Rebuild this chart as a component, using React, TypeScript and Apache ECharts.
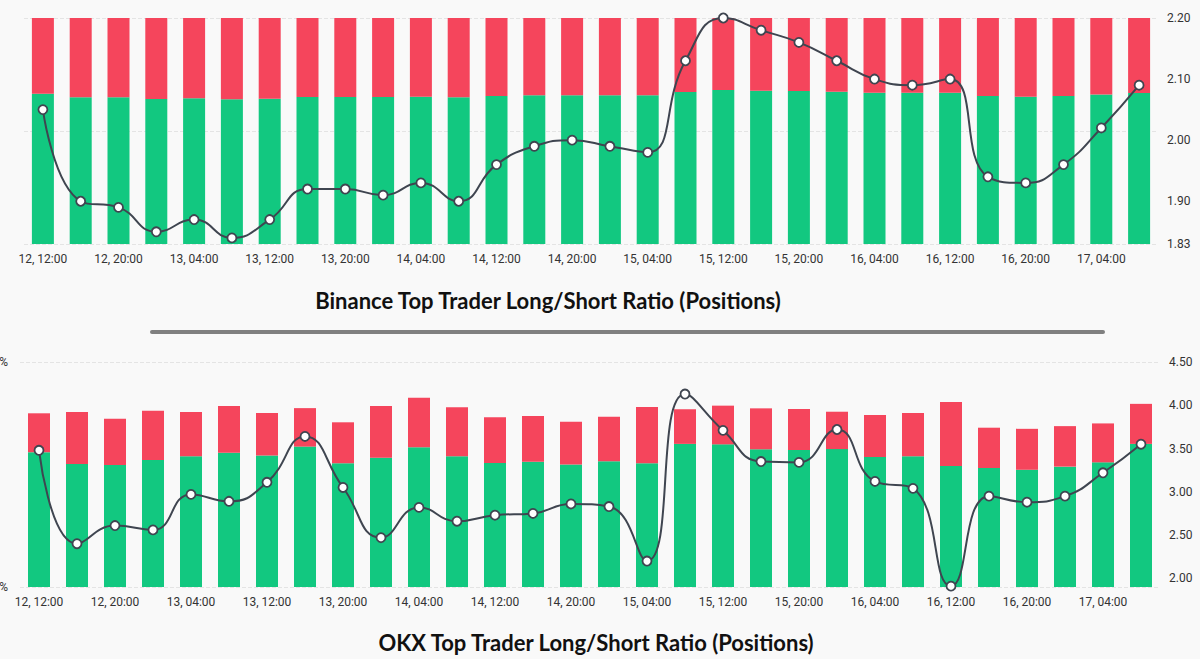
import React, { useEffect, useRef } from "react";
import * as echarts from "echarts";

const categories = [
  "12, 12:00", "12, 16:00", "12, 20:00", "13, 00:00", "13, 04:00", "13, 08:00",
  "13, 12:00", "13, 16:00", "13, 20:00", "14, 00:00", "14, 04:00", "14, 08:00",
  "14, 12:00", "14, 16:00", "14, 20:00", "15, 00:00", "15, 04:00", "15, 08:00",
  "15, 12:00", "15, 16:00", "15, 20:00", "16, 00:00", "16, 04:00", "16, 08:00",
  "16, 12:00", "16, 16:00", "16, 20:00", "17, 00:00", "17, 04:00", "17, 08:00",
];

// Binance: long % (short % = 100 - long)
const binanceLong = [
  66.5, 64.9, 64.9, 64.2, 64.5, 64.0, 64.3, 65.0, 65.0, 65.0,
  65.2, 64.9, 65.5, 65.8, 65.8, 65.8, 65.8, 67.3, 68.1, 67.8,
  67.7, 67.4, 66.9, 66.9, 66.9, 65.5, 65.2, 65.5, 66.1, 66.8,
];
const binanceShort = binanceLong.map((v) => +(100 - v).toFixed(1));
const binanceRatio = [
  2.05, 1.90, 1.89, 1.85, 1.87, 1.84, 1.87, 1.92, 1.92, 1.91,
  1.93, 1.90, 1.96, 1.99, 2.00, 1.99, 1.98, 2.13, 2.20, 2.18,
  2.16, 2.13, 2.10, 2.09, 2.10, 1.94, 1.93, 1.96, 2.02, 2.09,
];

// OKX
const okxLong = [
  59.9, 54.7, 54.2, 56.4, 58.1, 59.7, 58.5, 62.4, 55.0, 57.5,
  62.1, 58.1, 55.1, 55.7, 54.4, 55.9, 55.0, 63.6, 63.4, 61.2,
  60.9, 61.3, 57.8, 58.1, 53.8, 52.9, 52.1, 53.5, 55.4, 63.6,
];
const okxShort = [
  17.3, 23.1, 20.6, 21.9, 19.7, 20.8, 18.8, 17.1, 18.2, 23.0,
  22.0, 21.8, 20.3, 20.3, 19.0, 19.8, 25.0, 15.4, 17.2, 18.2,
  18.2, 16.6, 18.7, 19.2, 28.4, 17.9, 18.2, 18.0, 17.3, 17.8,
];
const okxRatio = [
  3.48, 2.40, 2.61, 2.56, 2.97, 2.89, 3.11, 3.64, 3.05, 2.47,
  2.82, 2.66, 2.73, 2.75, 2.86, 2.83, 2.20, 4.13, 3.71, 3.35,
  3.34, 3.72, 3.12, 3.04, 1.91, 2.95, 2.88, 2.95, 3.22, 3.55,
];

const titles = [
  "Binance Top Trader Long/Short Ratio (Positions)",
  "OKX Top Trader Long/Short Ratio (Positions)",
];

const GREEN = "#12C880";
const RED = "#F5455C";
const LINE = "#3F4550";
const LABEL_FONT = "Roboto, 'DejaVu Sans', sans-serif";
const TITLE_FONT = "Lato, 'Noto Sans', sans-serif";

export default function App() {
  const ref = useRef<HTMLDivElement>(null);
  useEffect(() => {
    if (!ref.current) return;
    const chart = echarts.init(ref.current, undefined, { renderer: "svg" });
    const xAxisBase = (gridIndex: number) => ({
      type: "category" as const,
      gridIndex,
      data: categories,
      axisLine: { show: false },
      axisTick: { show: false },
      axisLabel: {
        interval: 1,
        color: "#333",
        fontSize: 12,
        fontFamily: LABEL_FONT,
        margin: 9,
      },
    });
    const lineSeries = (data: number[], xi: number, yi: number) => ({
      type: "line" as const,
      xAxisIndex: xi,
      yAxisIndex: yi,
      data,
      smooth: 0.5,
      symbol: "circle",
      symbolSize: 9,
      lineStyle: { color: LINE, width: 2 },
      itemStyle: { color: "#fff", borderColor: LINE, borderWidth: 1.8 },
      z: 5,
    });
    const titleStyle = { fontFamily: TITLE_FONT, fontWeight: "bold", fontSize: 22, color: "#111" };
    chart.setOption({
      animation: false,
      backgroundColor: "#F9F9F9",
      title: [
        { text: titles[0], left: 543, top: 284, textAlign: "center", textStyle: titleStyle },
        { text: titles[1], left: 591, top: 626, textAlign: "center", textStyle: titleStyle },
      ],
      graphic: [
        {
          type: "line",
          shape: { x1: 152, y1: 332, x2: 1103, y2: 332 },
          style: { stroke: "#808080", lineWidth: 4, lineCap: "round" },
        },
      ],
      grid: [
        { left: 24, right: 42, top: 18, height: 226, outerBoundsMode: "none", containLabel: false },
        { left: 20, right: 40, top: 362, height: 225, outerBoundsMode: "none", containLabel: false },
      ],
      xAxis: [xAxisBase(0), xAxisBase(1)],
      yAxis: [
        {
          type: "value",
          gridIndex: 0,
          min: 0,
          max: 100,
          interval: 50,
          axisLabel: { show: false },
          splitLine: { lineStyle: { type: "dashed", color: "#E4E4E4" } },
        },
        {
          type: "value",
          gridIndex: 0,
          position: "right",
          min: 1.83,
          max: 2.2,
          splitNumber: 4,
          splitLine: { show: false },
          axisLabel: {
            color: "#333",
            fontSize: 12,
            fontFamily: LABEL_FONT,
            margin: 9,
            formatter: (v: number) => v.toFixed(2),
          },
        },
        {
          type: "value",
          gridIndex: 1,
          min: 0,
          max: 100,
          interval: 100,
          splitLine: { lineStyle: { type: "dashed", color: "#E4E4E4" } },
          axisLabel: {
            color: "#333",
            fontSize: 12,
            fontFamily: LABEL_FONT,
            margin: 12,
            formatter: (v: number) => v + "%",
          },
        },
        {
          type: "value",
          gridIndex: 1,
          position: "right",
          min: 1.9,
          max: 4.5,
          splitNumber: 5,
          splitLine: { show: false },
          axisLabel: {
            color: "#333",
            fontSize: 12,
            fontFamily: LABEL_FONT,
            margin: 9,
            showMinLabel: false,
            formatter: (v: number) => v.toFixed(2),
          },
        },
      ],
      series: [
        { type: "bar", xAxisIndex: 0, yAxisIndex: 0, stack: "b", data: binanceLong, barWidth: 22, itemStyle: { color: GREEN } },
        { type: "bar", xAxisIndex: 0, yAxisIndex: 0, stack: "b", data: binanceShort, barWidth: 22, itemStyle: { color: RED } },
        lineSeries(binanceRatio, 0, 1),
        { type: "bar", xAxisIndex: 1, yAxisIndex: 2, stack: "o", data: okxLong, barWidth: 22, itemStyle: { color: GREEN } },
        { type: "bar", xAxisIndex: 1, yAxisIndex: 2, stack: "o", data: okxShort, barWidth: 22, itemStyle: { color: RED } },
        lineSeries(okxRatio, 1, 3),
      ],
    });
    return () => chart.dispose();
  }, []);
  return (
    <div
      ref={ref}
      style={{ position: "absolute", left: 0, top: 0, width: 1200, height: 659 }}
    />
  );
}
